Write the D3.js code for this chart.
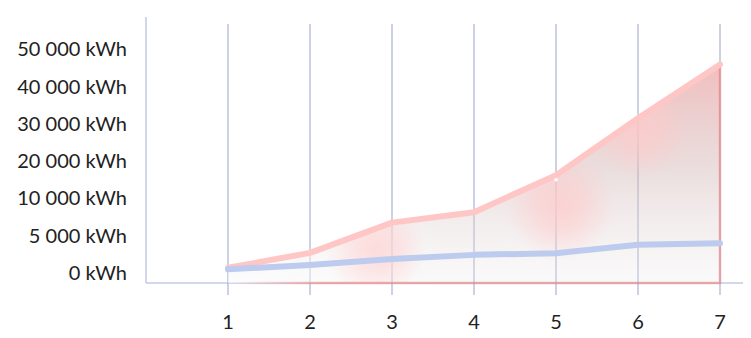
<!DOCTYPE html>
<html>
<head>
<meta charset="utf-8">
<script src="https://cdn.jsdelivr.net/npm/d3@7"></script>
<style>
  body { margin: 0; background: #fff; }
  text { font-family: Lato, "Open Sans", sans-serif; }
</style>
</head>
<body>
<script>
// chart data
const days = [1, 2, 3, 4, 5, 6, 7];
const redSeries = [700, 2700, 6750, 8150, 16200, 31500, 45900];
const blueSeries = [500, 1080, 1890, 2430, 2660, 3780, 4000];
const yTicks = [0, 5000, 10000, 20000, 30000, 40000, 50000];

const width = 751, height = 338;
const svg = d3.select('body').append('svg')
    .attr('width', width)
    .attr('height', height);

const x = d3.scaleLinear().domain([1, 7]).range([228, 720]);
// ticks are evenly spaced although the values are not
const y = d3.scaleLinear()
    .domain(yTicks)
    .range(yTicks.map((d, i) => 273 - i * 37.3));
const baseY = 283;

const defs = svg.append('defs');
const grad = defs.append('linearGradient')
    .attr('id', 'areaFill')
    .attr('gradientUnits', 'userSpaceOnUse')
    .attr('x1', 0).attr('y1', 60).attr('x2', 0).attr('y2', baseY);
grad.append('stop').attr('offset', 0).attr('stop-color', 'rgb(235,160,160)').attr('stop-opacity', 0.7);
grad.append('stop').attr('offset', 0.5).attr('stop-color', 'rgb(210,182,182)').attr('stop-opacity', 0.45);
grad.append('stop').attr('offset', 1).attr('stop-color', 'rgb(235,232,232)').attr('stop-opacity', 0.25);

const glow = defs.append('radialGradient').attr('id', 'glow');
glow.append('stop').attr('offset', 0).attr('stop-color', '#ffcaca').attr('stop-opacity', 0.75);
glow.append('stop').attr('offset', 0.45).attr('stop-color', '#ffcaca').attr('stop-opacity', 0.5);
glow.append('stop').attr('offset', 1).attr('stop-color', '#ffcaca').attr('stop-opacity', 0);

const fade = defs.append('linearGradient')
    .attr('id', 'leftFade')
    .attr('gradientUnits', 'userSpaceOnUse')
    .attr('x1', 228).attr('y1', 0).attr('x2', 450).attr('y2', 0);
fade.append('stop').attr('offset', 0).attr('stop-color', '#fff').attr('stop-opacity', 0.5);
fade.append('stop').attr('offset', 1).attr('stop-color', '#fff').attr('stop-opacity', 0);

const edge = defs.append('linearGradient')
    .attr('id', 'edgeFade')
    .attr('gradientUnits', 'userSpaceOnUse')
    .attr('x1', 232).attr('y1', 0).attr('x2', 320).attr('y2', 0);
edge.append('stop').attr('offset', 0).attr('stop-color', '#f07070').attr('stop-opacity', 0);
edge.append('stop').attr('offset', 1).attr('stop-color', '#f07070').attr('stop-opacity', 0.5);

const area = d3.area()
    .x((d, i) => x(days[i]))
    .y0(baseY)
    .y1(d => y(d));

defs.append('clipPath').attr('id', 'areaClip')
    .append('path').attr('d', area(redSeries));

// axes lines
svg.append('line')
    .attr('x1', 146).attr('x2', 146).attr('y1', 17).attr('y2', baseY)
    .attr('stroke', '#c3cbe3').attr('stroke-width', 1.5);
svg.append('line')
    .attr('x1', 146).attr('x2', 743).attr('y1', baseY).attr('y2', baseY)
    .attr('stroke', '#c3cbe3').attr('stroke-width', 1.5);

// grid lines
svg.append('g').selectAll('line')
    .data(days)
    .join('line')
    .attr('x1', d => x(d)).attr('x2', d => x(d))
    .attr('y1', 24).attr('y2', 295)
    .attr('stroke', '#aab4d2').attr('stroke-opacity', 0.8).attr('stroke-width', 1.5);

// area
const ag = svg.append('g');
ag.append('path')
    .attr('d', area(redSeries))
    .attr('fill', 'url(#areaFill)');
const blobs = ag.append('g').attr('clip-path', 'url(#areaClip)');
[[560, 205, 55], [640, 130, 48], [375, 250, 50]].forEach(b => {
    blobs.append('circle')
        .attr('cx', b[0]).attr('cy', b[1]).attr('r', b[2])
        .attr('fill', 'url(#glow)');
});
blobs.append('rect')
    .attr('x', 146).attr('y', 0).attr('width', 600).attr('height', baseY)
    .attr('fill', 'url(#leftFade)');

// area outline (bottom fades in, right side solid)
svg.append('path')
    .attr('d', `M${x(7)},${y(redSeries[6])}L${x(7)},${baseY}L${x(1) + 4},${baseY}`)
    .attr('fill', 'none')
    .attr('stroke', 'url(#edgeFade)').attr('stroke-width', 2.5);

const line = d3.line()
    .x((d, i) => x(days[i]))
    .y(d => y(d));

svg.append('path')
    .attr('d', line(redSeries))
    .attr('fill', 'none')
    .attr('stroke', '#ffc6c6').attr('stroke-width', 6)
    .attr('stroke-linecap', 'round').attr('stroke-linejoin', 'round');

svg.append('path')
    .attr('d', line(blueSeries))
    .attr('fill', 'none')
    .attr('stroke', '#bccbee').attr('stroke-width', 6)
    .attr('stroke-linecap', 'round').attr('stroke-linejoin', 'round');

svg.append('rect')
    .attr('x', x(5) - 1.5).attr('y', y(redSeries[4]) + 3).attr('width', 3).attr('height', 3)
    .attr('fill', '#fff');

// labels
const fmt = d => d3.format(',')(d).replace(/,/g, ' ') + ' kWh';
svg.append('g').selectAll('text')
    .data(yTicks)
    .join('text')
    .attr('x', 127).attr('y', d => y(d))
    .attr('dy', '0.35em')
    .attr('text-anchor', 'end')
    .attr('font-size', 20)
    .attr('fill', '#222')
    .text(fmt);

svg.append('g').selectAll('text')
    .data(days)
    .join('text')
    .attr('x', d => x(d)).attr('y', 322)
    .attr('dy', '0.35em')
    .attr('text-anchor', 'middle')
    .attr('font-size', 20)
    .attr('fill', '#222')
    .text(d => d);
</script>
</body>
</html>
